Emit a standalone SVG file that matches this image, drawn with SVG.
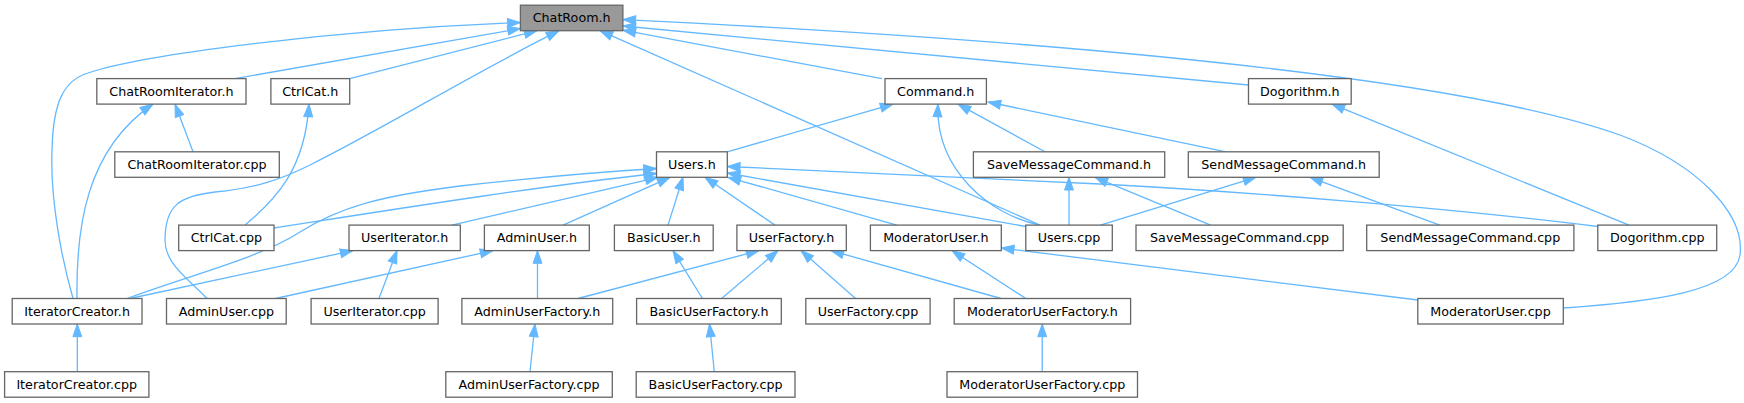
<svg xmlns="http://www.w3.org/2000/svg" width="1744" height="403" viewBox="0 0 1744 403">
<style>
.n rect{fill:#ffffff;stroke:#666666;stroke-width:1.3}
#n_chatroom_h rect{fill:#999999}
.n text{font-family:"DejaVu Sans","Liberation Sans",sans-serif;font-size:12.7px;fill:#000000;text-anchor:middle}
#edges path{fill:none;stroke:#63b8ff;stroke-width:1.3;marker-end:url(#ah)}
</style>
<defs>
<marker id="ah" markerUnits="userSpaceOnUse" markerWidth="16" markerHeight="12" refX="12.7" refY="4.45" orient="auto" overflow="visible">
<path d="M0,0 L12.7,4.45 L0,8.9 Z" fill="#63b8ff" stroke="#63b8ff" stroke-width="1"/>
</marker>
</defs>
<rect width="1744" height="403" fill="#ffffff"/>
<g id="edges">
<path d="M235,78.6 L520.4,28.5"/>
<path d="M349.7,78.6 L537,30.7"/>
<path d="M882,78.6 L622.9,30.2"/>
<path d="M1248.5,85 L622.9,26"/>
<path d="M73,298.5 C62,260 50,200 52,150 C53,100 65,80 88,73 C140,55 330,30 520.4,22.5"/>
<path d="M207,298.5 C190,280 165,265 165,240 C165,205 180,196 215,192 C255,188 280,180 310,165 C390,125 470,75 559,30.7"/>
<path d="M1040,225.1 L600,30.7"/>
<path d="M1563.3,308 C1650,302 1735,292 1740,255 C1745,215 1700,165 1620,135 C1480,85 1150,45 622.9,19.6"/>
<path d="M193,151.8 L175,104.1"/>
<path d="M77,298.5 C76,230 85,150 153,104.1"/>
<path d="M245,225.1 C275,200 305,170 309,104.1"/>
<path d="M727.3,151.8 L893,104.1"/>
<path d="M1040,225.1 C990,215 935,170 938,104.1"/>
<path d="M1045,151.8 L958,104.1"/>
<path d="M1226,151.8 L988,102"/>
<path d="M1629,225.1 L1332,104.1"/>
<path d="M274,228 C390,210 540,186 656.5,173.5"/>
<path d="M127,298.5 C190,275 260,258 300,232 C340,207 380,196 460,186 C540,177 600,172 656.5,168.5"/>
<path d="M452,225.1 L658,177.3"/>
<path d="M563,225.1 L670,177.3"/>
<path d="M668,225.1 L683,177.3"/>
<path d="M775,225.1 L705,177.3"/>
<path d="M896.7,225.1 L728,177.3"/>
<path d="M1025.8,226.5 L727.3,173"/>
<path d="M1598,226.5 C1450,208 1250,192 1100,184 C950,176 820,170 727.3,166.5"/>
<path d="M1069,225.1 L1069,177.3"/>
<path d="M1210.6,225.1 L1095,177.3"/>
<path d="M1100.4,225.1 L1256,177.3"/>
<path d="M1439.8,225.1 L1310,177.3"/>
<path d="M130,298.5 L353,250.6"/>
<path d="M379,298.5 L397,250.6"/>
<path d="M275.5,298.5 L493,250.6"/>
<path d="M537.5,298.5 L537.5,250.6"/>
<path d="M702.4,298.5 L673,250.6"/>
<path d="M578,298.5 L759,250.6"/>
<path d="M721.6,298.5 L778,250.6"/>
<path d="M855.5,298.5 L801,250.6"/>
<path d="M1001,298.5 L831,250.6"/>
<path d="M1025.8,298.5 L952,250.6"/>
<path d="M1417.8,300 L1001.3,248"/>
<path d="M77.3,371.7 L77.3,324"/>
<path d="M530,371.7 L535,324"/>
<path d="M714.3,371.7 L709.5,324"/>
<path d="M1042.2,371.7 L1042.2,324"/>
</g>
<g id="n_chatroom_h" class="n"><rect x="520.4" y="5.2" width="102.5" height="25.5"/><text x="571.65" y="22.2">ChatRoom.h</text></g>
<g id="n_chatroomiterator_h" class="n"><rect x="96.8" y="78.6" width="149.2" height="25.5"/><text x="171.4" y="95.6">ChatRoomIterator.h</text></g>
<g id="n_ctrlcat_h" class="n"><rect x="270.9" y="78.6" width="78.8" height="25.5"/><text x="310.3" y="95.6">CtrlCat.h</text></g>
<g id="n_command_h" class="n"><rect x="885" y="78.6" width="101.4" height="25.5"/><text x="935.7" y="95.6">Command.h</text></g>
<g id="n_dogorithm_h" class="n"><rect x="1248.5" y="78.6" width="102.7" height="25.5"/><text x="1299.85" y="95.6">Dogorithm.h</text></g>
<g id="n_chatroomiterator_cpp" class="n"><rect x="114.8" y="151.8" width="164.5" height="25.5"/><text x="197.05" y="168.8">ChatRoomIterator.cpp</text></g>
<g id="n_users_h" class="n"><rect x="656.5" y="151.8" width="70.8" height="25.5"/><text x="691.9" y="168.8">Users.h</text></g>
<g id="n_savemessagecommand_h" class="n"><rect x="973.4" y="151.8" width="191.3" height="25.5"/><text x="1069.05" y="168.8">SaveMessageCommand.h</text></g>
<g id="n_sendmessagecommand_h" class="n"><rect x="1188.3" y="151.8" width="190.9" height="25.5"/><text x="1283.75" y="168.8">SendMessageCommand.h</text></g>
<g id="n_ctrlcat_cpp" class="n"><rect x="178.7" y="225.1" width="95.3" height="25.5"/><text x="226.35" y="242.1">CtrlCat.cpp</text></g>
<g id="n_useriterator_h" class="n"><rect x="349" y="225.1" width="111.3" height="25.5"/><text x="404.65" y="242.1">UserIterator.h</text></g>
<g id="n_adminuser_h" class="n"><rect x="484.4" y="225.1" width="104.9" height="25.5"/><text x="536.85" y="242.1">AdminUser.h</text></g>
<g id="n_basicuser_h" class="n"><rect x="614.4" y="225.1" width="98.8" height="25.5"/><text x="663.8" y="242.1">BasicUser.h</text></g>
<g id="n_userfactory_h" class="n"><rect x="736.9" y="225.1" width="109.4" height="25.5"/><text x="791.6" y="242.1">UserFactory.h</text></g>
<g id="n_moderatoruser_h" class="n"><rect x="870.4" y="225.1" width="130.9" height="25.5"/><text x="935.85" y="242.1">ModeratorUser.h</text></g>
<g id="n_users_cpp" class="n"><rect x="1025.8" y="225.1" width="86.5" height="25.5"/><text x="1069.05" y="242.1">Users.cpp</text></g>
<g id="n_savemessagecommand_cpp" class="n"><rect x="1136" y="225.1" width="207.2" height="25.5"/><text x="1239.6" y="242.1">SaveMessageCommand.cpp</text></g>
<g id="n_sendmessagecommand_cpp" class="n"><rect x="1366.7" y="225.1" width="207.2" height="25.5"/><text x="1470.3" y="242.1">SendMessageCommand.cpp</text></g>
<g id="n_dogorithm_cpp" class="n"><rect x="1597.8" y="225.1" width="118.9" height="25.5"/><text x="1657.25" y="242.1">Dogorithm.cpp</text></g>
<g id="n_iteratorcreator_h" class="n"><rect x="12.2" y="298.5" width="129.8" height="25.5"/><text x="77.1" y="315.5">IteratorCreator.h</text></g>
<g id="n_adminuser_cpp" class="n"><rect x="166.5" y="298.5" width="119.7" height="25.5"/><text x="226.35" y="315.5">AdminUser.cpp</text></g>
<g id="n_useriterator_cpp" class="n"><rect x="311.1" y="298.5" width="127" height="25.5"/><text x="374.6" y="315.5">UserIterator.cpp</text></g>
<g id="n_adminuserfactory_h" class="n"><rect x="461.9" y="298.5" width="150.8" height="25.5"/><text x="537.3" y="315.5">AdminUserFactory.h</text></g>
<g id="n_basicuserfactory_h" class="n"><rect x="636.6" y="298.5" width="144.7" height="25.5"/><text x="708.95" y="315.5">BasicUserFactory.h</text></g>
<g id="n_userfactory_cpp" class="n"><rect x="805.8" y="298.5" width="124.3" height="25.5"/><text x="867.95" y="315.5">UserFactory.cpp</text></g>
<g id="n_moderatoruserfactory_h" class="n"><rect x="954.2" y="298.5" width="176.4" height="25.5"/><text x="1042.4" y="315.5">ModeratorUserFactory.h</text></g>
<g id="n_moderatoruser_cpp" class="n"><rect x="1417.8" y="298.5" width="145.5" height="25.5"/><text x="1490.55" y="315.5">ModeratorUser.cpp</text></g>
<g id="n_iteratorcreator_cpp" class="n"><rect x="4.6" y="371.7" width="144.3" height="25.5"/><text x="76.75" y="388.7">IteratorCreator.cpp</text></g>
<g id="n_adminuserfactory_cpp" class="n"><rect x="445.8" y="371.7" width="166.5" height="25.5"/><text x="529.05" y="388.7">AdminUserFactory.cpp</text></g>
<g id="n_basicuserfactory_cpp" class="n"><rect x="636.2" y="371.7" width="158.8" height="25.5"/><text x="715.6" y="388.7">BasicUserFactory.cpp</text></g>
<g id="n_moderatoruserfactory_cpp" class="n"><rect x="947" y="371.7" width="190.5" height="25.5"/><text x="1042.25" y="388.7">ModeratorUserFactory.cpp</text></g>
</svg>
